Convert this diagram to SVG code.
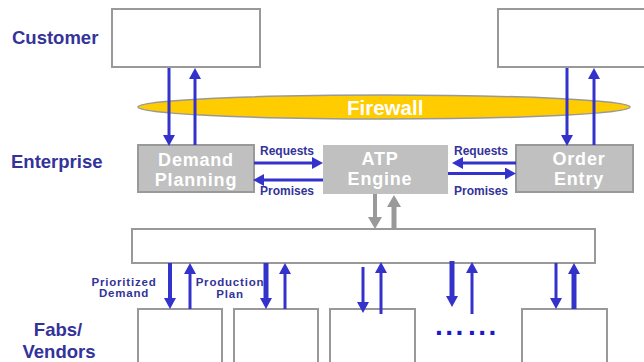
<svg xmlns="http://www.w3.org/2000/svg" width="644" height="362" viewBox="0 0 644 362">
  <style>
    .lane { font-family: "Liberation Sans", Arial, sans-serif; font-weight: bold; font-size: 18.5px; fill: #333399; }
    .box { fill: #ffffff; stroke: #999999; stroke-width: 2; }
    .proc { fill: #c0c0c0; stroke: #999999; stroke-width: 2; }
    .ptxt { font-family: "Liberation Sans", Arial, sans-serif; font-weight: bold; font-size: 18px; fill: #ffffff; text-anchor: middle; letter-spacing: 0.8px; }
    .lbl { font-family: "Liberation Sans", Arial, sans-serif; font-weight: bold; font-size: 12px; fill: #333399; }
    .lbl2 { font-family: "Liberation Sans", Arial, sans-serif; font-weight: bold; font-size: 11.5px; fill: #333399; text-anchor: middle; letter-spacing: 0.8px; }
    .flow { fill: none; stroke: #3333cc; stroke-width: 3; marker-end: url(#head); }
    .flow.thick { stroke-width: 5; }
    .gflow { fill: none; stroke: #999999; stroke-width: 4; marker-end: url(#ghead); }
    .dots { font-family: "Liberation Sans", Arial, sans-serif; font-weight: bold; font-size: 28px; fill: #1a1acc; letter-spacing: 2.5px; }
  </style>
  <defs>
    <marker id="head" markerUnits="userSpaceOnUse" markerWidth="12" markerHeight="12" refX="0" refY="6" orient="auto">
      <path d="M0,0 L11,6 L0,12 z" fill="#3333cc"/>
    </marker>
    <marker id="ghead" markerUnits="userSpaceOnUse" markerWidth="13" markerHeight="14" refX="0" refY="7" orient="auto">
      <path d="M0,0 L12,7 L0,14 z" fill="#999999"/>
    </marker>
  </defs>

  <!-- lane titles -->
  <text class="lane" x="12" y="44">Customer</text>
  <text class="lane" x="11" y="168">Enterprise</text>
  <text class="lane" x="58" y="336" text-anchor="middle">Fabs/</text>
  <text class="lane" x="59" y="358" text-anchor="middle">Vendors</text>

  <!-- customer systems -->
  <g id="customer-left"><rect class="box" x="112" y="9" width="148" height="58"/></g>
  <g id="customer-right"><rect class="box" x="498" y="9" width="150" height="58"/></g>

  <!-- firewall -->
  <g id="firewall">
    <ellipse cx="384" cy="107" rx="246" ry="12" fill="#ffcc00" stroke="#999999" stroke-width="1.5"/>
    <text x="347" y="115" font-family="Liberation Sans, Arial, sans-serif" font-weight="bold" font-size="20.5" fill="#ffffff">Firewall</text>
  </g>

  <!-- enterprise processes -->
  <g id="demand-planning">
    <rect class="proc" x="138" y="145" width="116" height="47"/>
    <text class="ptxt" x="196" y="166">Demand</text>
    <text class="ptxt" x="196" y="186">Planning</text>
  </g>
  <g id="atp-engine">
    <rect x="323" y="145" width="125" height="49" fill="#c0c0c0"/>
    <text class="ptxt" x="380" y="165">ATP</text>
    <text class="ptxt" x="380" y="185">Engine</text>
  </g>
  <g id="order-entry">
    <rect class="proc" x="516" y="145" width="117" height="47"/>
    <text class="ptxt" x="579" y="165">Order</text>
    <text class="ptxt" x="579" y="185">Entry</text>
  </g>

  <!-- shared bus -->
  <g id="bus"><rect class="box" x="132" y="229" width="463" height="34"/></g>

  <!-- fabs / vendors -->
  <g id="fab-1"><rect class="box" x="138" y="309" width="84" height="60"/></g>
  <g id="fab-2"><rect class="box" x="234" y="309" width="84" height="60"/></g>
  <g id="fab-3"><rect class="box" x="330" y="309" width="85" height="60"/></g>
  <g id="fab-n"><rect class="box" x="522" y="309" width="85" height="60"/></g>
  <text class="dots" x="435" y="335">...</text>
  <text class="dots" x="468" y="335">...</text>

  <!-- connectors -->
  <g id="connectors">
    <!-- customer to demand planning -->
    <path class="flow" d="M169,68 V135"/>
    <path class="flow" d="M195,145 V79"/>
    <!-- customer to order entry -->
    <path class="flow" d="M567,68 V135"/>
    <path class="flow" d="M594,145 V79"/>

    <!-- demand planning <-> ATP -->
    <path class="flow" d="M254,163 H312"/>
    <path class="flow" d="M323,180 H264"/>
    <!-- order entry <-> ATP -->
    <path class="flow" d="M516,163 H463"/>
    <path class="flow" d="M448,173.5 H505"/>

    <!-- ATP <-> bus -->
    <path class="gflow" d="M375,194 V217"/>
    <path class="gflow" d="M394,229 V207" style="stroke-width:5"/>

    <!-- bus <-> fabs -->
    <path class="flow" d="M170,263 V298" style="stroke-width:4"/>
    <path class="flow" d="M190,309 V274"/>
    <path class="flow thick" d="M266,263 V298"/>
    <path class="flow" d="M285,309 V274"/>
    <path class="flow" d="M363,267 V302"/>
    <path class="flow" d="M381,314 V273"/>
    <path class="flow thick" d="M452,261 V296"/>
    <path class="flow" d="M472,314 V273"/>
    <path class="flow" d="M556,263 V298"/>
    <path class="flow thick" d="M574,309 V274"/>
  </g>

  <!-- connector labels -->
  <text class="lbl" x="260" y="155">Requests</text>
  <text class="lbl" x="260" y="195">Promises</text>
  <text class="lbl" x="454" y="155">Requests</text>
  <text class="lbl" x="454" y="195">Promises</text>
  <text class="lbl2" x="124" y="286">Prioritized</text>
  <text class="lbl2" x="124" y="297">Demand</text>
  <text class="lbl2" x="230" y="286">Production</text>
  <text class="lbl2" x="230" y="298">Plan</text>
</svg>
